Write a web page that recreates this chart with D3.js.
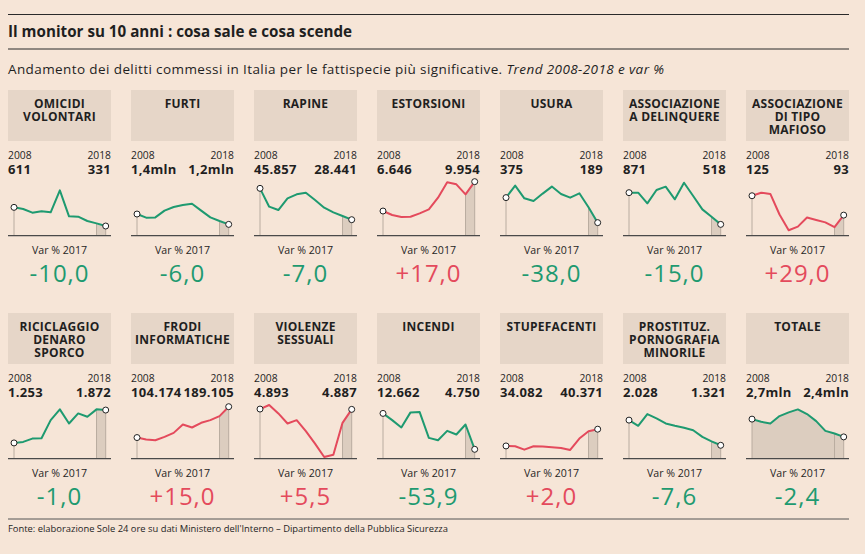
<!DOCTYPE html>
<html>
<head>
<meta charset="utf-8">
<script src="https://cdn.jsdelivr.net/npm/d3@7"></script>
<style>
  html, body { margin: 0; padding: 0; background: #f6e5d7; }
  svg { display: block; }
  text { font-family: "Open Sans", Roboto, "Noto Sans", sans-serif; }
</style>
</head>
<body>
<svg id="chart" width="865" height="554"></svg>
<script>
// ---------- DATA ----------
const years = [2008, 2009, 2010, 2011, 2012, 2013, 2014, 2015, 2016, 2017, 2018];

const categories = [
  "OMICIDI\nVOLONTARI", "FURTI", "RAPINE", "ESTORSIONI", "USURA",
  "ASSOCIAZIONE\nA DELINQUERE", "ASSOCIAZIONE\nDI TIPO\nMAFIOSO",
  "RICICLAGGIO\nDENARO\nSPORCO", "FRODI\nINFORMATICHE", "VIOLENZE\nSESSUALI",
  "INCENDI", "STUPEFACENTI", "PROSTITUZ.\nPORNOGRAFIA\nMINORILE", "TOTALE"
];

const omicidi      = [611, 586, 531, 551, 536, 866, 476, 471, 406, 371, 331];
const furti        = [1.40, 1.33, 1.335, 1.465, 1.535, 1.574, 1.60, 1.465, 1.335, 1.265, 1.20];
const rapine       = [45857, 35666, 33813, 40298, 42522, 43448, 39372, 35110, 32516, 30477, 28441];
const estorsioni   = [6646, 6195, 5969, 6007, 6383, 6834, 8150, 9879, 9653, 8526, 9954];
const usura        = [375, 464, 370, 350, 405, 457, 402, 375, 407, 303, 189];
const assDelinq    = [871, 871, 752, 901, 938, 797, 982, 834, 685, 603, 518];
const assMafioso   = [125, 130, 128, 94, 68, 74, 89, 85, 81, 73, 93];
const riciclaggio  = [1253, 1272, 1335, 1341, 1683, 1885, 1619, 1809, 1746, 1885, 1872];
const frodi        = [104174, 98635, 96788, 106020, 117099, 140179, 131870, 144795, 152180, 163258, 189105];
const violenze     = [4893, 4970, 4810, 4619, 4682, 4472, 4236, 3981, 4025, 4631, 4887];
const incendi      = [12662, 11183, 9557, 12884, 12958, 7264, 6747, 8817, 8004, 10222, 4750];
const stupefacenti = [34082, 33956, 32698, 33956, 33830, 33579, 33327, 32572, 36850, 39617, 40371];
const prostituz    = [2028, 1868, 2198, 2075, 1934, 1868, 1811, 1745, 1557, 1430, 1321];
const totale       = [2.70, 2.655, 2.626, 2.751, 2.813, 2.864, 2.785, 2.666, 2.502, 2.457, 2.40];

const series = [omicidi, furti, rapine, estorsioni, usura, assDelinq, assMafioso,
  riciclaggio, frodi, violenze, incendi, stupefacenti, prostituz, totale];

// value shown at the bottom/top of each mini plot
const yDomains = [
  [186, 1021], [0.981, 2.058], [19547, 50490], [3864, 10142], [92, 506], [392, 1012], [59, 151],
  [956, 2005], [46012, 199264], [3949, 5008], [2680, 14954], [29302, 50184], [944, 2509], [2.032, 2.972]
];

const startLabels = ["611", "1,4mln", "45.857", "6.646", "375", "871", "125",
  "1.253", "104.174", "4.893", "12.662", "34.082", "2.028", "2,7mln"];
const endLabels = ["331", "1,2mln", "28.441", "9.954", "189", "518", "93",
  "1.872", "189.105", "4.887", "4.750", "40.371", "1.321", "2,4mln"];
const varValues = [-10.0, -6.0, -7.0, 17.0, -38.0, -15.0, 29.0,
  -1.0, 15.0, 5.5, -53.9, 2.0, -7.6, -2.4];

const title = "Il monitor su 10 anni : cosa sale e cosa scende";
const subtitle = "Andamento dei delitti commessi in Italia per le fattispecie più significative. ";
const subtitleItalic = "Trend 2008-2018 e var %";
const source = "Fonte: elaborazione Sole 24 ore su dati Ministero dell'Interno – Dipartimento della Pubblica Sicurezza";

// ---------- STYLE / LAYOUT ----------
const BG = "#f6e5d7", BOX = "#e6d6c8", GREEN = "#1e9a70", RED = "#e44a5c", INK = "#1f1f1f";
const SHADE = "#dccdbf", EDGE = "#b9aca0";
const left = 8, right = 849;
const colW = 103, colPitch = 123, rowPitch = 223;

const svg = d3.select("#chart");
svg.append("rect").attr("width", 865).attr("height", 554).attr("fill", BG);

// header rules and titles
svg.append("line").attr("x1", left).attr("x2", right).attr("y1", 14.5).attr("y2", 14.5)
  .attr("stroke", "#2a2a2a").attr("stroke-width", 1);
svg.append("text").attr("x", left).attr("y", 37).attr("font-size", 15.2).attr("font-weight", 700)
  .attr("fill", INK).text(title);
svg.append("line").attr("x1", left).attr("x2", right).attr("y1", 49).attr("y2", 49)
  .attr("stroke", "#2a2a2a").attr("stroke-width", 1);
const sub = svg.append("text").attr("x", left).attr("y", 74).attr("font-size", 13.5)
  .attr("letter-spacing", 0.4).attr("fill", INK);
sub.append("tspan").text(subtitle);
sub.append("tspan").attr("font-style", "italic").text(subtitleItalic);

// footer
svg.append("line").attr("x1", left).attr("x2", right).attr("y1", 519).attr("y2", 519)
  .attr("stroke", "#555").attr("stroke-width", 1);
svg.append("text").attr("x", left).attr("y", 532).attr("font-size", 9.4).attr("fill", INK).text(source);

// ---------- PANELS ----------
categories.forEach((cat, i) => {
  const col = i % 7, row = Math.floor(i / 7);
  const px = left + col * colPitch;
  const dy = row * rowPitch;
  const g = svg.append("g").attr("transform", `translate(${px},${dy})`);
  const vals = series[i];
  const color = varValues[i] > 0 ? RED : GREEN;

  // header box
  g.append("rect").attr("x", 0).attr("y", 90).attr("width", colW).attr("height", 51).attr("fill", BOX);
  const lines = cat.split("\n");
  lines.forEach((ln, k) => {
    g.append("text").attr("x", colW / 2).attr("y", 107.5 + k * 13.3)
      .attr("text-anchor", "middle").attr("font-size", 12).attr("font-weight", 700)
      .attr("letter-spacing", 0.25).attr("fill", INK).text(ln);
  });

  // year + value labels
  g.append("text").attr("x", 0).attr("y", 159).attr("font-size", 10.3).attr("fill", INK).text(years[0]);
  g.append("text").attr("x", colW).attr("y", 159).attr("text-anchor", "end").attr("font-size", 10.3)
    .attr("fill", INK).text(years[years.length - 1]);
  g.append("text").attr("x", 0).attr("y", 173.5).attr("font-size", 13).attr("font-weight", 700)
    .attr("letter-spacing", 0.3).attr("fill", INK).text(startLabels[i]);
  g.append("text").attr("x", colW).attr("y", 173.5).attr("text-anchor", "end").attr("font-size", 13)
    .attr("font-weight", 700).attr("letter-spacing", 0.3).attr("fill", INK).text(endLabels[i]);

  // scales
  const x = d3.scaleLinear().domain([years[0], years[years.length - 1]]).range([6, 97.7]);
  const y = d3.scaleLinear().domain(yDomains[i]).range([235.7, 180]);
  const pts = years.map((yr, k) => ({ yr, v: vals[k] }));

  // shaded area
  const shadePts = cat === "TOTALE" ? pts : pts.slice(-2);
  const area = d3.area().x(d => x(d.yr)).y0(y(yDomains[i][0])).y1(d => y(d.v));
  g.append("path").attr("d", area(shadePts)).attr("fill", SHADE);

  // vertical guide lines
  [years[0], years[years.length - 2], years[years.length - 1]].forEach(yr => {
    const v = vals[years.indexOf(yr)];
    g.append("line").attr("x1", x(yr)).attr("x2", x(yr)).attr("y1", y(v)).attr("y2", y(yDomains[i][0]))
      .attr("stroke", EDGE).attr("stroke-width", 1);
  });

  // axis line
  g.append("line").attr("x1", 0).attr("x2", colW).attr("y1", y(yDomains[i][0])).attr("y2", y(yDomains[i][0]))
    .attr("stroke", "#4a4a4a").attr("stroke-width", 1.3);

  // series line
  const line = d3.line().x(d => x(d.yr)).y(d => y(d.v));
  g.append("path").attr("d", line(pts)).attr("fill", "none").attr("stroke", color)
    .attr("stroke-width", 2).attr("stroke-linejoin", "round");

  // endpoint markers
  [pts[0], pts[pts.length - 1]].forEach(d => {
    g.append("circle").attr("cx", x(d.yr)).attr("cy", y(d.v)).attr("r", 3)
      .attr("fill", "#fff").attr("stroke", "#222").attr("stroke-width", 1);
  });

  // variation
  g.append("text").attr("x", colW / 2).attr("y", 254).attr("text-anchor", "middle")
    .attr("font-size", 10.6).attr("fill", INK).text("Var % 2017");
  const fmt = v => (v > 0 ? "+" : "-") + Math.abs(v).toFixed(1).replace(".", ",");
  g.append("text").attr("x", colW / 2).attr("y", 282).attr("text-anchor", "middle")
    .attr("font-size", 24).attr("letter-spacing", 1).attr("fill", color).text(fmt(varValues[i]));
});
</script>
</body>
</html>
